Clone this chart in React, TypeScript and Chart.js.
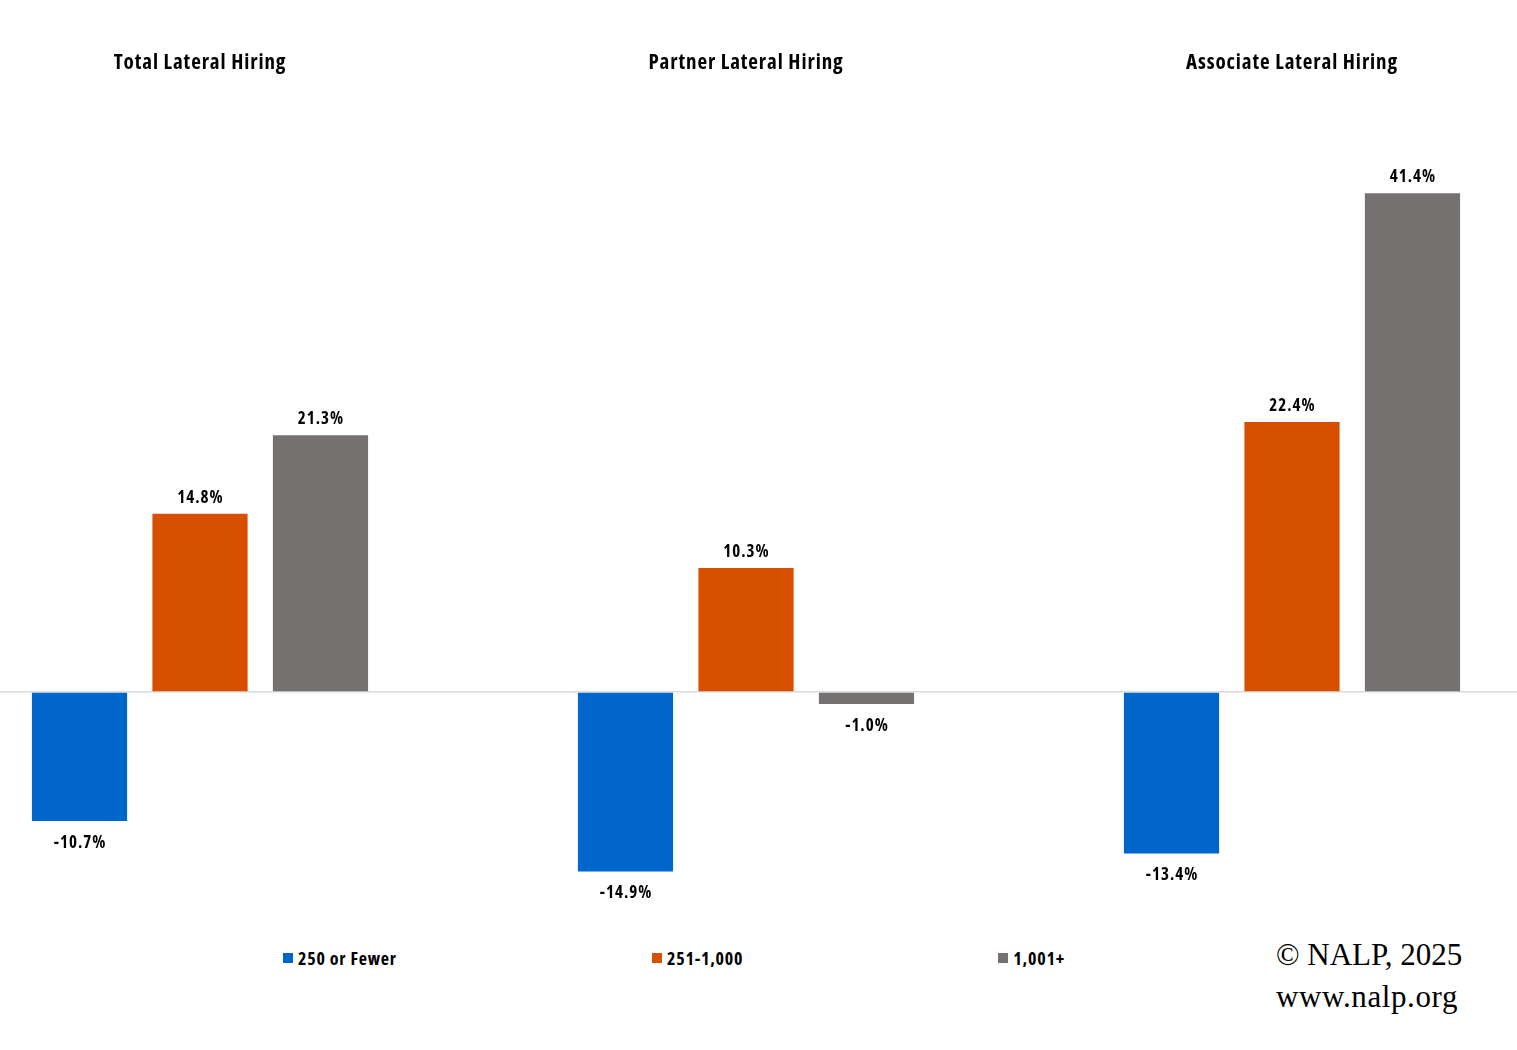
import React, { useEffect, useRef } from "react";
import { Chart, registerables } from "chart.js";

Chart.register(...registerables);

const categories = ["Total Lateral Hiring", "Partner Lateral Hiring", "Associate Lateral Hiring"];
const seriesNames = ["250 or Fewer", "251-1,000", "1,001+"];
const fewer250 = [-10.7, -14.9, -13.4];
const mid251to1000 = [14.8, 10.3, 22.4];
const over1001 = [21.3, -1.0, 41.4];
const seriesColors = ["#0066CC", "#D65000", "#767171"];

const FONT = '"Open Sans", "Liberation Sans", sans-serif';
const STRETCH = "condensed";

const spacing = {
  id: "spacing",
  beforeDraw(chart: any) {
    (chart.ctx as any).letterSpacing = "0.9px";
  },
};

const valueLabels = {
  id: "valueLabels",
  afterDatasetsDraw(chart: any) {
    const ctx = chart.ctx;
    ctx.save();
    ctx.font = `normal bold ${STRETCH} 17px ${FONT}`;
    (ctx as any).letterSpacing = "1px";
    ctx.fillStyle = "#000";
    ctx.textAlign = "center";
    ctx.textBaseline = "middle";
    chart.data.datasets.forEach((ds: any, i: number) => {
      const meta = chart.getDatasetMeta(i);
      meta.data.forEach((el: any, j: number) => {
        const v = ds.data[j] as number;
        const y = v < 0 ? el.y + 22 : el.y - 16;
        ctx.fillText(v.toFixed(1) + "%", el.x + 0.5, y);
      });
    });
    ctx.restore();
  },
};

export default function App() {
  const ref = useRef<HTMLCanvasElement | null>(null);

  useEffect(() => {
    if (!ref.current) return;
    const data = [fewer250, mid251to1000, over1001];
    const chart = new Chart(ref.current, {
      type: "bar",
      data: {
        labels: categories,
        datasets: seriesNames.map((name, i) => ({
          label: name,
          data: data[i],
          backgroundColor: seriesColors[i],
          borderWidth: 0,
          categoryPercentage: 0.662,
          barPercentage: 0.79,
        })),
      },
      options: {
        animation: false,
        responsive: true,
        maintainAspectRatio: false,
        layout: { padding: 0 },
        plugins: {
          legend: { display: false },
          tooltip: { enabled: false },
        },
        scales: {
          x: {
            position: "top",
            offset: true,
            grid: { display: false, drawTicks: false },
            border: { display: false },
            ticks: {
              color: "#000",
              font: { family: FONT, size: 21, weight: `bold ${STRETCH}` as any },
              padding: 14,
              maxRotation: 0,
              autoSkip: false,
            },
            afterFit(scale: any) {
              scale.height = 89.5;
            },
          },
          y: {
            min: -20,
            max: 50,
            ticks: { display: false, stepSize: 10 },
            border: { display: false },
            grid: {
              drawTicks: false,
              lineWidth: 1.5,
              color: (c: any) => (c.tick && c.tick.value === 0 ? "#D9D9D9" : "rgba(0,0,0,0)"),
            },
            afterFit(scale: any) {
              scale.width = 0;
            },
          },
        },
      },
      plugins: [spacing, valueLabels],
    });
    return () => chart.destroy();
  }, []);

  return (
    <div
      style={{
        position: "fixed",
        left: 0,
        top: 0,
        width: 1517,
        height: 1050,
        overflow: "hidden",
        background: "#fff",
      }}
    >
      <div style={{ position: "absolute", left: -73, top: 0, width: 1638, height: 933 }}>
        <canvas ref={ref} />
      </div>
      <div
        style={{
          position: "absolute",
          left: 283,
          top: 946,
          height: 24,
          display: "flex",
          alignItems: "center",
          gap: 255,
          fontFamily: FONT,
          fontWeight: "bold",
          fontStretch: STRETCH,
          fontSize: 18,
          letterSpacing: "0.8px",
          color: "#000",
        }}
      >
        {seriesNames.map((n, i) => (
          <div key={n} style={{ display: "flex", alignItems: "center" }}>
            <span
              style={{
                display: "inline-block",
                width: 10,
                height: 10,
                background: seriesColors[i],
                marginRight: 5,
              }}
            />
            <span>{n}</span>
          </div>
        ))}
      </div>
      <div
        style={{
          position: "absolute",
          left: 1276,
          top: 934,
          fontFamily: '"Liberation Serif", "Times New Roman", serif',
          fontSize: 31,
          lineHeight: "42px",
          color: "#000",
          whiteSpace: "nowrap",
        }}
      >
        <div>© NALP, 2025</div>
        <div style={{ letterSpacing: "0.6px" }}>www.nalp.org</div>
      </div>
    </div>
  );
}
